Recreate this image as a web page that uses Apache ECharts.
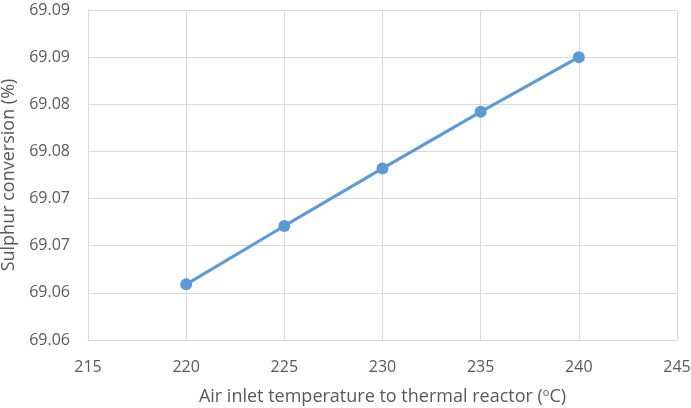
<!DOCTYPE html>
<html>
<head>
    <meta charset="UTF-8">
    <title>Sulphur conversion</title>
    <script src="https://cdn.jsdelivr.net/npm/echarts@6/dist/echarts.min.js"></script>
    <style>
        html, body { margin: 0; padding: 0; background: #fff; }
    </style>
</head>
<body>
    <div id="chart" style="width:691px; height:408px;"></div>
    <script>
        // data
        var temps = [220, 225, 230, 235, 240];
        var conversion = [69.0609, 69.0671, 69.0732, 69.0792, 69.0850];
        var yTickLabels = ['69.06', '69.06', '69.07', '69.07', '69.08', '69.08', '69.09', '69.09'];

        var chart = echarts.init(document.getElementById('chart'), null, {renderer: 'canvas'});
        var textColor = '#595959';
        var gridColor = '#D9D9D9';
        var font = 'Open Sans';

        var points = temps.map(function (t, i) { return [t, conversion[i]]; });

        chart.setOption({
            animation: false,
            grid: {left: 88, right: 14, top: 10, bottom: 68, containLabel: false, outerBoundsMode: 'none'},
            xAxis: {
                type: 'value',
                min: 215,
                max: 245,
                interval: 5,
                name: '{t|Air inlet temperature to thermal reactor (}{s|o}{t|C)}',
                nameLocation: 'middle',
                nameGap: 47,
                nameTextStyle: {
                    rich: {
                        t: {fontSize: 18, color: textColor, fontFamily: font},
                        s: {fontSize: 11, color: textColor, fontFamily: font, verticalAlign: 'top', padding: [0, 0, 8, 0]}
                    }
                },
                axisLine: {show: true, lineStyle: {color: gridColor, width: 1}},
                axisTick: {show: false},
                axisLabel: {color: textColor, fontSize: 16, fontFamily: font, margin: 19},
                splitLine: {show: true, lineStyle: {color: gridColor, width: 1}}
            },
            yAxis: {
                type: 'value',
                min: 69.055,
                max: 69.09,
                interval: 0.005,
                name: 'Sulphur conversion (%)',
                nameLocation: 'middle',
                nameGap: 63,
                nameTextStyle: {color: textColor, fontSize: 18, fontFamily: font},
                axisLine: {show: true, lineStyle: {color: gridColor, width: 1}},
                axisTick: {show: false},
                axisLabel: {
                    color: textColor,
                    fontSize: 16,
                    fontFamily: font,
                    margin: 18,
                    formatter: function (v, i) { return yTickLabels[i]; }
                },
                splitLine: {show: true, lineStyle: {color: gridColor, width: 1}}
            },
            series: [{
                type: 'line',
                data: points,
                symbol: 'circle',
                symbolSize: 12,
                lineStyle: {color: '#5B9BD5', width: 3},
                itemStyle: {color: '#5B9BD5'}
            }]
        });
    </script>
</body>
</html>
